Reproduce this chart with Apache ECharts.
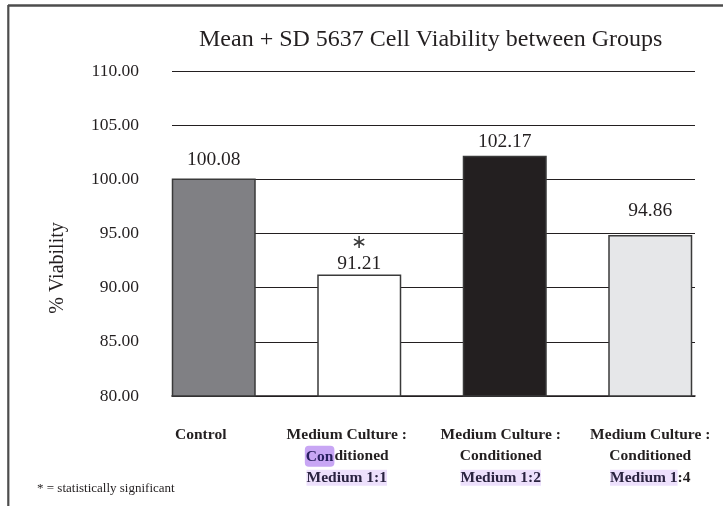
<!DOCTYPE html>
<html>
<head>
<meta charset="utf-8">
<script src="https://cdn.jsdelivr.net/npm/echarts@6/dist/echarts.min.js"></script>
<style>
    html, body { margin: 0; padding: 0; background: #fff; }
    #chart { width: 723px; height: 506px; }
</style>
</head>
<body>
<div id="chart"></div>
<script>
// data
const categories = [
    'Control',
    'Medium Culture :\nConditioned\nMedium 1:1',
    'Medium Culture :\nConditioned\nMedium 1:2',
    'Medium Culture :\nConditioned\nMedium 1:4'
];
const viability = [100.08, 91.21, 102.17, 94.86];
const significant = [false, true, false, false];
const yMin = 80, yMax = 110, yStep = 5;

// look
const barColors = ['#808084', '#ffffff', '#231f20', '#e6e7e9'];
const labelGaps = [8, 0, 3, 13];
const tickShift = [26, 25, 8, 0];   // labels sit a little left of their bars
const serif = '"Liberation Serif", "DejaVu Serif", serif';
const ink = '#231f20';

// the pdf highlighter marks on the labels
function labelFormatter(value, idx) {
    let lines = value.split('\n');
    if (lines.length < 3) return '{b|' + value + '}';
    let l2 = idx === 1 ? '{con|Con}{b|' + lines[1].slice(3) + '}' : '{b|' + lines[1] + '}';
    let l3 = idx === 3
        ? '{hl|' + lines[2].slice(0, -2) + '}{b|' + lines[2].slice(-2) + '}'
        : '{hl|' + lines[2] + '}';
    return '{b|' + lines[0] + '}\n' + l2 + '\n' + l3;
}

let myChart = echarts.init(document.getElementById('chart'));
let option = {
    animation: false,
    title: {
        text: 'Mean + SD 5637 Cell Viability between Groups',
        left: 194,
        top: 23,
        textStyle: { fontFamily: serif, fontSize: 24, fontWeight: 'normal', color: ink }
    },
    grid: [
        // bars sit a bit offset from the gridline span, so they get their own grid
        { left: 141, top: 71, width: 586, bottom: 110 },
        { left: 172, top: 71, right: 28, bottom: 110 }
    ],
    xAxis: [
        {
            gridIndex: 0,
            type: 'category',
            data: categories.map((c, i) => ({ value: c, textStyle: { padding: [0, tickShift[i], 0, 0] } })),
            axisLine: { show: false },
            axisTick: { show: false },
            axisLabel: {
                margin: 28,
                interval: 0,
                formatter: labelFormatter,
                rich: {
                    b: { fontFamily: serif, fontSize: 15.5, fontWeight: 'bold', color: ink, lineHeight: 21.5 },
                    hl: { fontFamily: serif, fontSize: 15.5, fontWeight: 'bold', color: '#2a2340', lineHeight: 21.5, backgroundColor: '#ede0fc' },
                    con: { fontFamily: serif, fontSize: 15.5, fontWeight: 'bold', color: '#2a2060', lineHeight: 21.5, backgroundColor: '#c8a6f4', borderRadius: 4, padding: [3, 1, 2, 1] }
                }
            }
        },
        {
            gridIndex: 1,
            type: 'category',
            data: categories,
            axisLabel: { show: false },
            axisTick: { show: false },
            axisLine: { lineStyle: { color: ink, width: 1.5 } }
        }
    ],
    yAxis: [
        { gridIndex: 0, type: 'value', min: yMin, max: yMax, show: false },
        {
            gridIndex: 1,
            type: 'value',
            min: yMin,
            max: yMax,
            interval: yStep,
            name: '% Viability',
            nameLocation: 'middle',
            nameRotate: 90,
            nameGap: 104,
            nameTextStyle: { fontFamily: serif, fontSize: 20, color: ink, padding: [0, 69, 0, 0] },
            axisLine: { show: false },
            axisTick: { show: false },
            axisLabel: {
                margin: 33,
                fontFamily: serif,
                fontSize: 17.5,
                color: ink,
                formatter: v => v.toFixed(2)
            },
            splitLine: { lineStyle: { color: ink, width: 1.2 } }
        }
    ],
    series: [
        {
            type: 'bar',
            xAxisIndex: 0,
            yAxisIndex: 0,
            barWidth: 84,
            data: viability.map((v, i) => ({
                value: v,
                itemStyle: { color: barColors[i] },
                label: { distance: labelGaps[i] }
            })),
            itemStyle: { borderColor: '#3a3a3a', borderWidth: 1.5 },
            label: {
                show: true,
                position: 'top',
                align: 'center',
                formatter: p => (significant[p.dataIndex] ? '{star|\u2217}\n' : '') + '{num|' + p.value.toFixed(2) + '}',
                rich: {
                    num: { fontFamily: serif, fontSize: 19.5, lineHeight: 22, color: ink },
                    star: { fontFamily: '"DejaVu Sans", sans-serif', fontSize: 19, lineHeight: 19, color: '#3a3a3a' }
                }
            }
        }
    ],
    graphic: [
        { type: 'line', shape: { x1: 8, y1: 5.5, x2: 723, y2: 5.5 }, style: { stroke: '#4d4d4d', lineWidth: 2.5 } },
        { type: 'line', shape: { x1: 8.3, y1: 5, x2: 8.3, y2: 506 }, style: { stroke: '#4d4d4d', lineWidth: 2.2 } },
        {
            type: 'text', left: 37, top: 482,
            style: { text: '* = statistically significant', fontFamily: serif, fontSize: 13, fill: ink }
        }
    ]
};
myChart.setOption(option);
</script>
</body>
</html>
